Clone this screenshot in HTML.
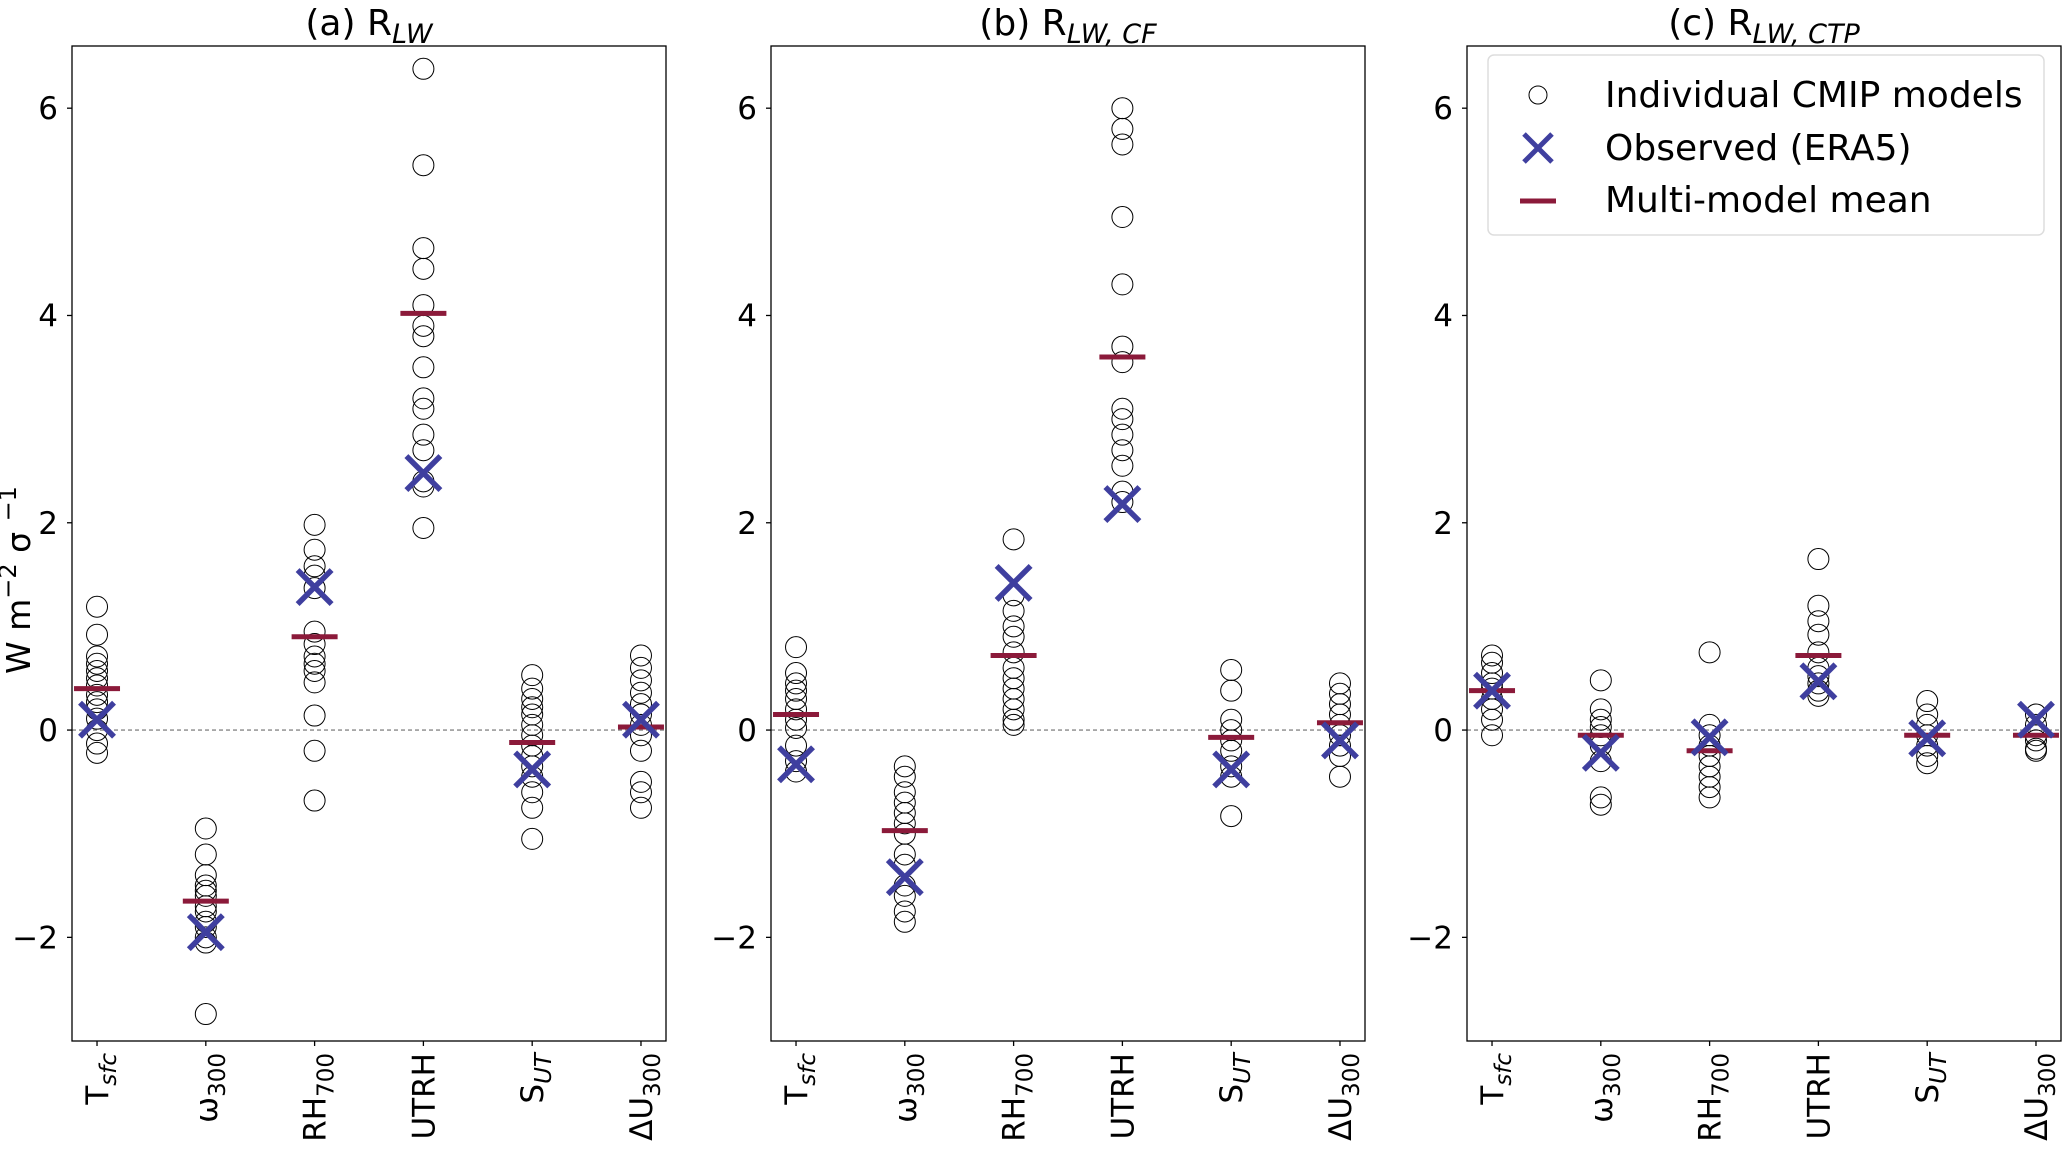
<!DOCTYPE html>
<html><head><meta charset="utf-8"><style>
html,body{margin:0;padding:0;background:#fff;}
svg{display:block;font-family:"DejaVu Sans","Liberation Sans",sans-serif;}
</style></head><body>
<svg id="chart" width="2067" height="1153" viewBox="0 0 2067 1153" xmlns="http://www.w3.org/2000/svg">
<text x="30" y="580" font-size="33" text-anchor="middle" transform="rotate(-90 30 580)">W m<tspan dy="-14" font-size="24">−2</tspan><tspan dy="14"> σ </tspan><tspan dy="-14" font-size="24">−1</tspan></text>
<g id="panels"></g>
<g>
<rect x="1488" y="55" width="556" height="180" rx="6" fill="#fff" stroke="#ddd" stroke-width="1.5"/>
<circle cx="1538" cy="95" r="9" fill="none" stroke="#000" stroke-width="1"/>
<text x="1605" y="107" font-size="36">Individual CMIP models</text>
<g stroke="#3f3f9f" stroke-width="5"><line x1="1524" y1="134" x2="1552" y2="162"/><line x1="1524" y1="162" x2="1552" y2="134"/></g>
<text x="1605" y="160" font-size="36">Observed (ERA5)</text>
<line x1="1520" y1="201" x2="1556" y2="201" stroke="#8b1a3a" stroke-width="5"/>
<text x="1605" y="212" font-size="36">Multi-model mean</text>
</g>
</svg>
<script>
const categories = ["T","ω","RH","UTRH","S","ΔU"];
const categorySubs = ["sfc","300","700","","UT","300"];
const panelTitles = ["(a) R","(b) R","(c) R"];
const panelTitleSubs = ["LW","LW, CF","LW, CTP"];
const yTicks = [-2,0,2,4,6];
const modelsA = [
 [1.19,0.92,0.71,0.64,0.57,0.5,0.43,0.34,0.27,0.2,0.11,0,-0.13,-0.22],
 [-0.95,-1.2,-1.4,-1.5,-1.55,-1.6,-1.7,-1.75,-1.85,-1.9,-2.0,-2.05,-2.74],
 [1.98,1.74,1.58,1.49,1.37,0.95,0.83,0.71,0.64,0.57,0.46,0.14,-0.2,-0.68],
 [6.38,5.45,4.65,4.45,4.1,3.9,3.8,3.5,3.2,3.1,2.85,2.7,2.4,2.35,1.95],
 [0.53,0.4,0.3,0.22,0.15,0.05,-0.05,-0.15,-0.25,-0.35,-0.45,-0.6,-0.75,-1.05],
 [0.72,0.6,0.48,0.36,0.25,0.15,0.05,-0.05,-0.2,-0.5,-0.6,-0.75]];
const modelsB = [
 [0.8,0.55,0.45,0.38,0.3,0.2,0.1,0.02,-0.15,-0.3,-0.4],
 [-0.35,-0.45,-0.6,-0.7,-0.8,-0.9,-1.0,-1.2,-1.3,-1.5,-1.6,-1.75,-1.85],
 [1.84,1.3,1.15,1.0,0.9,0.75,0.6,0.5,0.4,0.3,0.2,0.1,0.05],
 [6.0,5.8,5.65,4.95,4.3,3.7,3.55,3.1,3.0,2.85,2.7,2.55,2.3,2.2],
 [0.58,0.38,0.1,0.0,-0.1,-0.2,-0.35,-0.45,-0.83],
 [0.45,0.35,0.25,0.15,0.05,-0.05,-0.15,-0.25,-0.45]];
const modelsC = [
 [0.72,0.65,0.55,0.45,0.4,0.3,0.2,0.1,-0.05],
 [0.48,0.2,0.1,0.03,-0.05,-0.15,-0.3,-0.65,-0.72],
 [0.75,0.05,-0.05,-0.15,-0.25,-0.35,-0.45,-0.55,-0.65],
 [1.65,1.2,1.05,0.92,0.75,0.6,0.52,0.45,0.38,0.33],
 [0.28,0.15,0.05,-0.05,-0.15,-0.25,-0.32],
 [0.15,0.05,-0.05,-0.1,-0.18,-0.2]];
const meansA = [0.4,-1.65,0.9,4.02,-0.12,0.03];
const meansB = [0.15,-0.97,0.72,3.6,-0.07,0.07];
const meansC = [0.38,-0.05,-0.2,0.72,-0.05,-0.05];
const obsA = [0.1,-1.95,1.38,2.48,-0.38,0.1];
const obsB = [-0.33,-1.42,1.42,2.18,-0.38,-0.1];
const obsC = [0.38,-0.22,-0.07,0.47,-0.08,0.1];

const NS="http://www.w3.org/2000/svg";
const panelsG=document.getElementById('panels');
const panelLefts=[72,771,1467], PW=594, PT=46, PB=1041;
const yMin=-3, yMax=6.6, xMin=-0.23, xMax=5.23;
function mk(tag,attrs,parent){const e=document.createElementNS(NS,tag);for(const k in attrs)e.setAttribute(k,attrs[k]);parent.appendChild(e);return e;}
const allModels=[modelsA,modelsB,modelsC], allMeans=[meansA,meansB,meansC], allObs=[obsA,obsB,obsC];
for(let p=0;p<3;p++){
 const L=panelLefts[p];
 const xS=i=>L+(i-xMin)/(xMax-xMin)*PW;
 const yS=v=>PT+(yMax-v)/(yMax-yMin)*(PB-PT);
 const g=mk('g',{},panelsG);
 
 
 const t=mk('text',{x:L+PW/2,y:35,'font-size':36,'text-anchor':'middle'},g);
 
 
 t.textContent=panelTitles[p];
 const ts=mk('tspan',{dy:8,'font-size':27,'font-style':'italic'},t); ts.textContent=panelTitleSubs[p];
 mk('line',{x1:L,x2:L+PW,y1:yS(0),y2:yS(0),stroke:'#888','stroke-width':1.3,'stroke-dasharray':'4,3'},g);
 yTicks.forEach(v=>{
  const y=yS(v);
  mk('line',{x1:L-5,x2:L,y1:y,y2:y,stroke:'#000','stroke-width':1.3},g);
  const tx=mk('text',{x:L-14,y:y+11,'font-size':31,'text-anchor':'end'},g);
  
  
  tx.textContent=v<0?'−'+Math.abs(v):String(v);
 });
 categories.forEach((c,i)=>{
  const x=xS(i);
  mk('line',{x1:x,x2:x,y1:PB,y2:PB+5,stroke:'#000','stroke-width':1.3},g);
  const tx=mk('text',{x:x+11,y:PB+12,'font-size':31,'text-anchor':'end',transform:`rotate(-90 ${x+11} ${PB+12})`},g);
  
  
  tx.textContent=c;
  if(categorySubs[i]){const s=mk('tspan',{dy:8,'font-size':23,'font-style':(categorySubs[i]==='sfc'||categorySubs[i]==='UT')?'italic':'normal'},tx);s.textContent=categorySubs[i];}
  allModels[p][i].forEach(v=>{
   const ci=mk('circle',{cx:x,cy:yS(v),r:10.5,fill:'none',stroke:'#000','stroke-width':1},g);
   
   
  });
  const m=mk('line',{x1:x-23,x2:x+23,y1:yS(allMeans[p][i]),y2:yS(allMeans[p][i]),stroke:'#8b1a3a','stroke-width':5},g);
  
  
  const oy=yS(allObs[p][i]);
  const og=mk('g',{stroke:'#3f3f9f','stroke-width':5.5},g);
  
  
  mk('line',{x1:x-17,y1:oy-17,x2:x+17,y2:oy+17},og);
  mk('line',{x1:x-17,y1:oy+17,x2:x+17,y2:oy-17},og);
 });
 mk('rect',{x:L,y:PT,width:PW,height:PB-PT,fill:'none',stroke:'#000','stroke-width':1.3},g);
}
</script>
</body></html>
